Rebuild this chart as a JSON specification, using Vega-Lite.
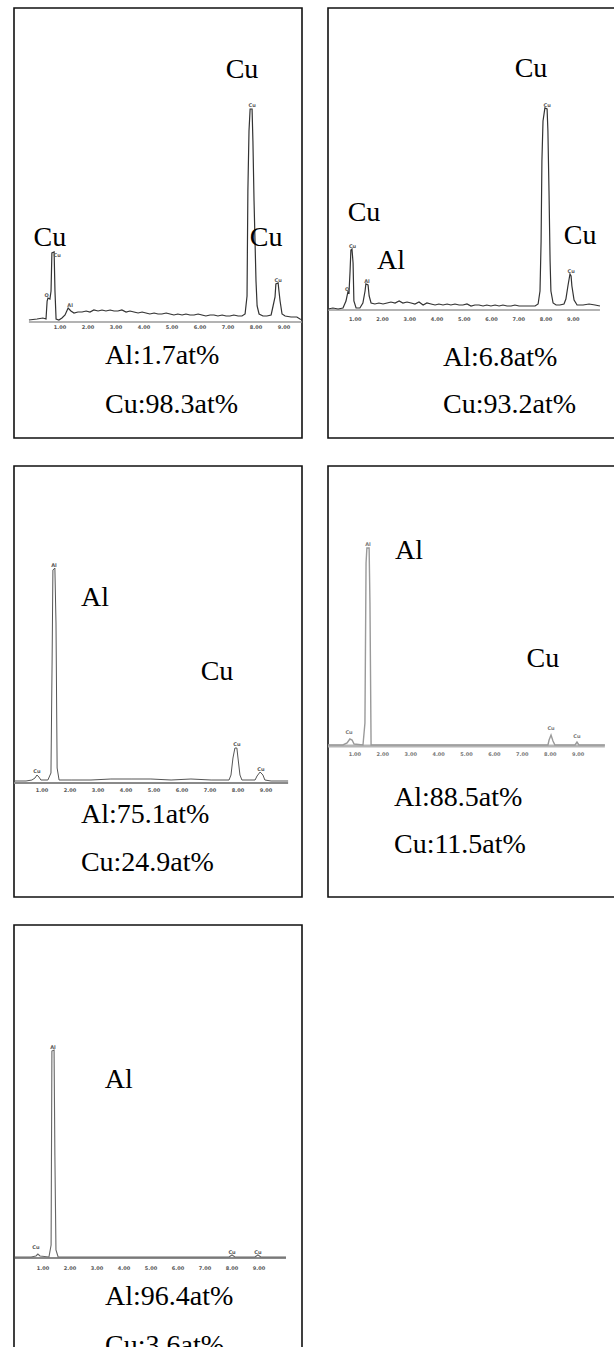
{
  "$schema": "https://vega.github.io/schema/vega-lite/v6.json",
  "background": "white",
  "padding": {"left": 13, "top": 7, "right": 0, "bottom": 0},
  "spacing": 26,
  "config": {"view": {"stroke": "#111", "strokeWidth": 1.6}},
  "datasets": {
    "spectra": [
      {"panel":1,"x":-0.11,"y":0},{"panel":1,"x":0.18,"y":10},{"panel":1,"x":0.39,"y":20},{"panel":1,"x":0.5,"y":10},{"panel":1,"x":0.54,"y":190},{"panel":1,"x":0.57,"y":220},{"panel":1,"x":0.64,"y":210},{"panel":1,"x":0.68,"y":290},{"panel":1,"x":0.71,"y":670},{"panel":1,"x":0.79,"y":680},{"panel":1,"x":0.82,"y":290},{"panel":1,"x":0.86,"y":10},{"panel":1,"x":0.96,"y":0},{"panel":1,"x":1.07,"y":20},{"panel":1,"x":1.18,"y":50},{"panel":1,"x":1.29,"y":120},{"panel":1,"x":1.39,"y":90},{"panel":1,"x":1.5,"y":70},{"panel":1,"x":1.64,"y":80},{"panel":1,"x":1.79,"y":80},{"panel":1,"x":1.93,"y":90},{"panel":1,"x":2.07,"y":80},{"panel":1,"x":2.21,"y":100},{"panel":1,"x":2.36,"y":90},{"panel":1,"x":2.5,"y":100},{"panel":1,"x":2.64,"y":90},{"panel":1,"x":2.79,"y":100},{"panel":1,"x":2.93,"y":90},{"panel":1,"x":3.07,"y":90},{"panel":1,"x":3.21,"y":100},{"panel":1,"x":3.36,"y":80},{"panel":1,"x":3.5,"y":90},{"panel":1,"x":3.64,"y":80},{"panel":1,"x":3.79,"y":70},{"panel":1,"x":3.93,"y":80},{"panel":1,"x":4.07,"y":70},{"panel":1,"x":4.21,"y":60},{"panel":1,"x":4.36,"y":70},{"panel":1,"x":4.5,"y":60},{"panel":1,"x":4.64,"y":60},{"panel":1,"x":4.79,"y":70},{"panel":1,"x":4.93,"y":60},{"panel":1,"x":5.07,"y":50},{"panel":1,"x":5.21,"y":60},{"panel":1,"x":5.36,"y":50},{"panel":1,"x":5.5,"y":60},{"panel":1,"x":5.64,"y":50},{"panel":1,"x":5.79,"y":50},{"panel":1,"x":5.93,"y":60},{"panel":1,"x":6.07,"y":50},{"panel":1,"x":6.21,"y":40},{"panel":1,"x":6.36,"y":50},{"panel":1,"x":6.5,"y":50},{"panel":1,"x":6.64,"y":40},{"panel":1,"x":6.79,"y":50},{"panel":1,"x":6.93,"y":40},{"panel":1,"x":7.07,"y":40},{"panel":1,"x":7.21,"y":50},{"panel":1,"x":7.36,"y":40},{"panel":1,"x":7.5,"y":40},{"panel":1,"x":7.61,"y":60},{"panel":1,"x":7.68,"y":240},{"panel":1,"x":7.71,"y":1290},{"panel":1,"x":7.75,"y":1890},{"panel":1,"x":7.79,"y":2110},{"panel":1,"x":7.86,"y":2110},{"panel":1,"x":7.89,"y":1790},{"panel":1,"x":7.93,"y":1190},{"panel":1,"x":8.0,"y":390},{"panel":1,"x":8.04,"y":140},{"panel":1,"x":8.11,"y":60},{"panel":1,"x":8.25,"y":40},{"panel":1,"x":8.39,"y":40},{"panel":1,"x":8.54,"y":50},{"panel":1,"x":8.61,"y":140},{"panel":1,"x":8.68,"y":230},{"panel":1,"x":8.71,"y":360},{"panel":1,"x":8.79,"y":370},{"panel":1,"x":8.82,"y":290},{"panel":1,"x":8.86,"y":190},{"panel":1,"x":8.93,"y":60},{"panel":1,"x":9.04,"y":40},{"panel":1,"x":9.25,"y":30},{"panel":1,"x":9.46,"y":30},{"panel":1,"x":9.57,"y":10},{"panel":1,"x":9.71,"y":0},{"panel":1,"x":9.96,"y":0},

      {"panel":2,"x":0,"y":0},{"panel":2,"x":0.18,"y":10},{"panel":2,"x":0.37,"y":0},{"panel":2,"x":0.55,"y":10},{"panel":2,"x":0.66,"y":80},{"panel":2,"x":0.73,"y":170},{"panel":2,"x":0.77,"y":160},{"panel":2,"x":0.81,"y":380},{"panel":2,"x":0.84,"y":590},{"panel":2,"x":0.88,"y":600},{"panel":2,"x":0.92,"y":460},{"panel":2,"x":0.95,"y":80},{"panel":2,"x":1.03,"y":10},{"panel":2,"x":1.17,"y":10},{"panel":2,"x":1.28,"y":60},{"panel":2,"x":1.36,"y":180},{"panel":2,"x":1.39,"y":250},{"panel":2,"x":1.47,"y":240},{"panel":2,"x":1.51,"y":130},{"panel":2,"x":1.58,"y":60},{"panel":2,"x":1.72,"y":50},{"panel":2,"x":1.87,"y":60},{"panel":2,"x":2.02,"y":50},{"panel":2,"x":2.17,"y":60},{"panel":2,"x":2.31,"y":70},{"panel":2,"x":2.46,"y":60},{"panel":2,"x":2.61,"y":80},{"panel":2,"x":2.75,"y":60},{"panel":2,"x":2.9,"y":70},{"panel":2,"x":3.05,"y":60},{"panel":2,"x":3.19,"y":50},{"panel":2,"x":3.34,"y":70},{"panel":2,"x":3.49,"y":40},{"panel":2,"x":3.63,"y":60},{"panel":2,"x":3.78,"y":50},{"panel":2,"x":3.93,"y":40},{"panel":2,"x":4.07,"y":50},{"panel":2,"x":4.22,"y":40},{"panel":2,"x":4.37,"y":50},{"panel":2,"x":4.51,"y":40},{"panel":2,"x":4.66,"y":50},{"panel":2,"x":4.81,"y":40},{"panel":2,"x":4.95,"y":40},{"panel":2,"x":5.1,"y":50},{"panel":2,"x":5.25,"y":30},{"panel":2,"x":5.39,"y":40},{"panel":2,"x":5.54,"y":40},{"panel":2,"x":5.69,"y":30},{"panel":2,"x":5.83,"y":40},{"panel":2,"x":5.98,"y":30},{"panel":2,"x":6.13,"y":40},{"panel":2,"x":6.28,"y":30},{"panel":2,"x":6.42,"y":40},{"panel":2,"x":6.57,"y":30},{"panel":2,"x":6.72,"y":30},{"panel":2,"x":6.86,"y":40},{"panel":2,"x":7.01,"y":30},{"panel":2,"x":7.16,"y":30},{"panel":2,"x":7.3,"y":30},{"panel":2,"x":7.45,"y":30},{"panel":2,"x":7.6,"y":30},{"panel":2,"x":7.71,"y":50},{"panel":2,"x":7.78,"y":180},{"panel":2,"x":7.82,"y":680},{"panel":2,"x":7.85,"y":1480},{"panel":2,"x":7.89,"y":1880},{"panel":2,"x":7.96,"y":2010},{"panel":2,"x":8.04,"y":2000},{"panel":2,"x":8.07,"y":1780},{"panel":2,"x":8.11,"y":1180},{"panel":2,"x":8.15,"y":480},{"panel":2,"x":8.18,"y":180},{"panel":2,"x":8.26,"y":60},{"panel":2,"x":8.37,"y":40},{"panel":2,"x":8.51,"y":40},{"panel":2,"x":8.66,"y":50},{"panel":2,"x":8.73,"y":100},{"panel":2,"x":8.81,"y":240},{"panel":2,"x":8.88,"y":350},{"panel":2,"x":8.92,"y":330},{"panel":2,"x":8.95,"y":230},{"panel":2,"x":9.03,"y":90},{"panel":2,"x":9.14,"y":40},{"panel":2,"x":9.36,"y":40},{"panel":2,"x":9.58,"y":50},{"panel":2,"x":9.8,"y":40},{"panel":2,"x":9.98,"y":30},

      {"panel":3,"x":0,"y":10},{"panel":3,"x":0.43,"y":10},{"panel":3,"x":0.64,"y":20},{"panel":3,"x":0.75,"y":40},{"panel":3,"x":0.82,"y":70},{"panel":3,"x":0.89,"y":50},{"panel":3,"x":0.96,"y":20},{"panel":3,"x":1.21,"y":20},{"panel":3,"x":1.32,"y":90},{"panel":3,"x":1.36,"y":1190},{"panel":3,"x":1.39,"y":2120},{"panel":3,"x":1.46,"y":2140},{"panel":3,"x":1.5,"y":1590},{"panel":3,"x":1.54,"y":140},{"panel":3,"x":1.61,"y":20},{"panel":3,"x":2.04,"y":20},{"panel":3,"x":2.75,"y":20},{"panel":3,"x":3.46,"y":30},{"panel":3,"x":4.18,"y":30},{"panel":3,"x":4.89,"y":30},{"panel":3,"x":5.61,"y":20},{"panel":3,"x":6.32,"y":30},{"panel":3,"x":7.04,"y":20},{"panel":3,"x":7.68,"y":20},{"panel":3,"x":7.75,"y":70},{"panel":3,"x":7.82,"y":240},{"panel":3,"x":7.89,"y":340},{"panel":3,"x":7.96,"y":340},{"panel":3,"x":8.0,"y":240},{"panel":3,"x":8.07,"y":70},{"panel":3,"x":8.14,"y":20},{"panel":3,"x":8.61,"y":20},{"panel":3,"x":8.68,"y":60},{"panel":3,"x":8.79,"y":100},{"panel":3,"x":8.89,"y":70},{"panel":3,"x":8.96,"y":20},{"panel":3,"x":9.18,"y":10},{"panel":3,"x":9.79,"y":10},

      {"panel":4,"x":0.04,"y":10},{"panel":4,"x":0.57,"y":10},{"panel":4,"x":0.72,"y":30},{"panel":4,"x":0.82,"y":70},{"panel":4,"x":0.9,"y":60},{"panel":4,"x":0.97,"y":20},{"panel":4,"x":1.29,"y":10},{"panel":4,"x":1.36,"y":230},{"panel":4,"x":1.4,"y":1830},{"panel":4,"x":1.43,"y":1980},{"panel":4,"x":1.51,"y":1980},{"panel":4,"x":1.54,"y":1430},{"panel":4,"x":1.58,"y":10},{"panel":4,"x":2.72,"y":10},{"panel":4,"x":4.52,"y":10},{"panel":4,"x":6.31,"y":10},{"panel":4,"x":7.92,"y":10},{"panel":4,"x":7.96,"y":60},{"panel":4,"x":8.03,"y":110},{"panel":4,"x":8.1,"y":50},{"panel":4,"x":8.17,"y":10},{"panel":4,"x":8.89,"y":10},{"panel":4,"x":8.96,"y":40},{"panel":4,"x":9.03,"y":10},{"panel":4,"x":9.96,"y":10},

      {"panel":5,"x":-0.04,"y":10},{"panel":5,"x":0.56,"y":10},{"panel":5,"x":0.74,"y":20},{"panel":5,"x":0.81,"y":40},{"panel":5,"x":0.89,"y":20},{"panel":5,"x":1.22,"y":10},{"panel":5,"x":1.3,"y":130},{"panel":5,"x":1.33,"y":2070},{"panel":5,"x":1.41,"y":2080},{"panel":5,"x":1.44,"y":1030},{"panel":5,"x":1.48,"y":80},{"panel":5,"x":1.56,"y":10},{"panel":5,"x":3.89,"y":10},{"panel":5,"x":6.11,"y":10},{"panel":5,"x":7.89,"y":10},{"panel":5,"x":8.0,"y":30},{"panel":5,"x":8.11,"y":10},{"panel":5,"x":8.85,"y":10},{"panel":5,"x":8.96,"y":30},{"panel":5,"x":9.07,"y":10},{"panel":5,"x":10.0,"y":10}
    ],
    "axes": [
      {"panel":1,"x":-0.11,"x2":9.96,"y":-20},
      {"panel":2,"x":0,"x2":9.98,"y":-10},
      {"panel":3,"x":0,"x2":9.79,"y":-10},
      {"panel":4,"x":0.04,"x2":9.96,"y":0},
      {"panel":5,"x":-0.04,"x2":10.0,"y":0}
    ],
    "small": [
      {"panel":1,"x":1,"y":-70,"t":"1.00"},{"panel":1,"x":2,"y":-70,"t":"2.00"},{"panel":1,"x":3,"y":-70,"t":"3.00"},{"panel":1,"x":4,"y":-70,"t":"4.00"},{"panel":1,"x":5,"y":-70,"t":"5.00"},{"panel":1,"x":6,"y":-70,"t":"6.00"},{"panel":1,"x":7,"y":-70,"t":"7.00"},{"panel":1,"x":8,"y":-70,"t":"8.00"},{"panel":1,"x":9,"y":-70,"t":"9.00"},
      {"panel":2,"x":1,"y":-100,"t":"1.00"},{"panel":2,"x":2,"y":-100,"t":"2.00"},{"panel":2,"x":3,"y":-100,"t":"3.00"},{"panel":2,"x":4,"y":-100,"t":"4.00"},{"panel":2,"x":5,"y":-100,"t":"5.00"},{"panel":2,"x":6,"y":-100,"t":"6.00"},{"panel":2,"x":7,"y":-100,"t":"7.00"},{"panel":2,"x":8,"y":-100,"t":"8.00"},{"panel":2,"x":9,"y":-100,"t":"9.00"},
      {"panel":3,"x":1,"y":-80,"t":"1.00"},{"panel":3,"x":2,"y":-80,"t":"2.00"},{"panel":3,"x":3,"y":-80,"t":"3.00"},{"panel":3,"x":4,"y":-80,"t":"4.00"},{"panel":3,"x":5,"y":-80,"t":"5.00"},{"panel":3,"x":6,"y":-80,"t":"6.00"},{"panel":3,"x":7,"y":-80,"t":"7.00"},{"panel":3,"x":8,"y":-80,"t":"8.00"},{"panel":3,"x":9,"y":-80,"t":"9.00"},
      {"panel":4,"x":1,"y":-80,"t":"1.00"},{"panel":4,"x":2,"y":-80,"t":"2.00"},{"panel":4,"x":3,"y":-80,"t":"3.00"},{"panel":4,"x":4,"y":-80,"t":"4.00"},{"panel":4,"x":5,"y":-80,"t":"5.00"},{"panel":4,"x":6,"y":-80,"t":"6.00"},{"panel":4,"x":7,"y":-80,"t":"7.00"},{"panel":4,"x":8,"y":-80,"t":"8.00"},{"panel":4,"x":9,"y":-80,"t":"9.00"},
      {"panel":5,"x":1,"y":-100,"t":"1.00"},{"panel":5,"x":2,"y":-100,"t":"2.00"},{"panel":5,"x":3,"y":-100,"t":"3.00"},{"panel":5,"x":4,"y":-100,"t":"4.00"},{"panel":5,"x":5,"y":-100,"t":"5.00"},{"panel":5,"x":6,"y":-100,"t":"6.00"},{"panel":5,"x":7,"y":-100,"t":"7.00"},{"panel":5,"x":8,"y":-100,"t":"8.00"},{"panel":5,"x":9,"y":-100,"t":"9.00"},
      {"panel":1,"x":0.9,"y":655,"t":"Cu"},{"panel":1,"x":0.52,"y":250,"t":"O"},{"panel":1,"x":1.36,"y":150,"t":"Al"},{"panel":1,"x":7.86,"y":2150,"t":"Cu"},{"panel":1,"x":8.79,"y":400,"t":"Cu"},
      {"panel":2,"x":0.9,"y":630,"t":"Cu"},{"panel":2,"x":0.7,"y":200,"t":"O"},{"panel":2,"x":1.43,"y":280,"t":"Al"},{"panel":2,"x":8.04,"y":2040,"t":"Cu"},{"panel":2,"x":8.92,"y":380,"t":"Cu"},
      {"panel":3,"x":1.43,"y":2170,"t":"Al"},{"panel":3,"x":0.82,"y":110,"t":"Cu"},{"panel":3,"x":7.96,"y":380,"t":"Cu"},{"panel":3,"x":8.82,"y":130,"t":"Cu"},
      {"panel":4,"x":1.47,"y":2020,"t":"Al"},{"panel":4,"x":0.79,"y":140,"t":"Cu"},{"panel":4,"x":8.03,"y":180,"t":"Cu"},{"panel":4,"x":8.96,"y":100,"t":"Cu"},
      {"panel":5,"x":1.37,"y":2110,"t":"Al"},{"panel":5,"x":0.74,"y":110,"t":"Cu"},{"panel":5,"x":8.0,"y":60,"t":"Cu"},{"panel":5,"x":8.96,"y":60,"t":"Cu"}
    ],
    "labels": [
      {"panel":1,"kind":"peak","x":7.5,"y":2420,"t":"Cu"},{"panel":1,"kind":"peak","x":0.64,"y":740,"t":"Cu"},{"panel":1,"kind":"peak","x":8.36,"y":740,"t":"Cu"},
      {"panel":1,"kind":"comp","x":2.61,"y":-440,"t":"Al:1.7at%"},{"panel":1,"kind":"comp","x":2.61,"y":-930,"t":"Cu:98.3at%"},
      {"panel":2,"kind":"peak","x":7.45,"y":2320,"t":"Cu"},{"panel":2,"kind":"peak","x":1.32,"y":880,"t":"Cu"},{"panel":2,"kind":"peak","x":2.31,"y":400,"t":"Al"},{"panel":2,"kind":"peak","x":9.25,"y":650,"t":"Cu"},
      {"panel":2,"kind":"comp","x":4.22,"y":-570,"t":"Al:6.8at%"},{"panel":2,"kind":"comp","x":4.22,"y":-1040,"t":"Cu:93.2at%"},
      {"panel":3,"kind":"peak","x":2.89,"y":1760,"t":"Al"},{"panel":3,"kind":"peak","x":7.25,"y":1020,"t":"Cu"},
      {"panel":3,"kind":"comp","x":2.39,"y":-410,"t":"Al:75.1at%"},{"panel":3,"kind":"comp","x":2.39,"y":-890,"t":"Cu:24.9at%"},
      {"panel":4,"kind":"peak","x":2.94,"y":1870,"t":"Al"},{"panel":4,"kind":"peak","x":7.74,"y":790,"t":"Cu"},
      {"panel":4,"kind":"comp","x":2.4,"y":-600,"t":"Al:88.5at%"},{"panel":4,"kind":"comp","x":2.4,"y":-1070,"t":"Cu:11.5at%"},
      {"panel":5,"kind":"peak","x":3.81,"y":1700,"t":"Al"},
      {"panel":5,"kind":"comp","x":3.3,"y":-470,"t":"Al:96.4at%"},{"panel":5,"kind":"comp","x":3.3,"y":-960,"t":"Cu:3.6at%"}
    ]
  },
  "vconcat": [
    {
      "spacing": 24,
      "hconcat": [
        {
          "width": 288, "height": 430,
          "encoding": {
            "x": {"field": "x", "type": "quantitative", "scale": {"domain": [-0.643, 9.643], "nice": false, "zero": false}, "axis": null},
            "y": {"field": "y", "type": "quantitative", "scale": {"domain": [-1180, 3120], "nice": false, "zero": false}, "axis": null}
          },
          "layer": [
            {"data": {"name": "axes"}, "transform": [{"filter": "datum.panel == 1"}], "mark": {"type": "rule", "stroke": "#9a9a9a", "strokeWidth": 1.6, "clip": true}, "encoding": {"x2": {"field": "x2"}}},
            {"data": {"name": "spectra"}, "transform": [{"filter": "datum.panel == 1"}], "mark": {"type": "line", "stroke": "#333", "strokeWidth": 1.2, "clip": true}},
            {"data": {"name": "small"}, "transform": [{"filter": "datum.panel == 1"}], "mark": {"type": "text", "font": "DejaVu Sans", "fontSize": 5, "fontWeight": "bold", "fill": "#555", "baseline": "middle"}, "encoding": {"text": {"field": "t"}}},
            {"data": {"name": "labels"}, "transform": [{"filter": "datum.panel == 1 && datum.kind == 'peak'"}], "mark": {"type": "text", "font": "Liberation Serif", "fontSize": 28, "fill": "#000", "align": "center", "baseline": "alphabetic"}, "encoding": {"text": {"field": "t"}}},
            {"data": {"name": "labels"}, "transform": [{"filter": "datum.panel == 1 && datum.kind == 'comp'"}], "mark": {"type": "text", "font": "Liberation Serif", "fontSize": 28, "fill": "#000", "align": "left", "baseline": "alphabetic"}, "encoding": {"text": {"field": "t"}}}
          ]
        },
        {
          "width": 287, "height": 430,
          "encoding": {
            "x": {"field": "x", "type": "quantitative", "scale": {"domain": [0, 10.532], "nice": false, "zero": false}, "axis": null},
            "y": {"field": "y", "type": "quantitative", "scale": {"domain": [-1290, 3010], "nice": false, "zero": false}, "axis": null}
          },
          "layer": [
            {"data": {"name": "axes"}, "transform": [{"filter": "datum.panel == 2"}], "mark": {"type": "rule", "stroke": "#9a9a9a", "strokeWidth": 1.6, "clip": true}, "encoding": {"x2": {"field": "x2"}}},
            {"data": {"name": "spectra"}, "transform": [{"filter": "datum.panel == 2"}], "mark": {"type": "line", "stroke": "#333", "strokeWidth": 1.2, "clip": true}},
            {"data": {"name": "small"}, "transform": [{"filter": "datum.panel == 2"}], "mark": {"type": "text", "font": "DejaVu Sans", "fontSize": 5, "fontWeight": "bold", "fill": "#555", "baseline": "middle"}, "encoding": {"text": {"field": "t"}}},
            {"data": {"name": "labels"}, "transform": [{"filter": "datum.panel == 2 && datum.kind == 'peak'"}], "mark": {"type": "text", "font": "Liberation Serif", "fontSize": 28, "fill": "#000", "align": "center", "baseline": "alphabetic"}, "encoding": {"text": {"field": "t"}}},
            {"data": {"name": "labels"}, "transform": [{"filter": "datum.panel == 2 && datum.kind == 'comp'"}], "mark": {"type": "text", "font": "Liberation Serif", "fontSize": 28, "fill": "#000", "align": "left", "baseline": "alphabetic"}, "encoding": {"text": {"field": "t"}}}
          ]
        }
      ]
    },
    {
      "spacing": 24,
      "hconcat": [
        {
          "width": 288, "height": 431,
          "encoding": {
            "x": {"field": "x", "type": "quantitative", "scale": {"domain": [0, 10.286], "nice": false, "zero": false}, "axis": null},
            "y": {"field": "y", "type": "quantitative", "scale": {"domain": [-1150, 3160], "nice": false, "zero": false}, "axis": null}
          },
          "layer": [
            {"data": {"name": "axes"}, "transform": [{"filter": "datum.panel == 3"}], "mark": {"type": "rule", "stroke": "#8a8a8a", "strokeWidth": 2, "clip": true}, "encoding": {"x2": {"field": "x2"}}},
            {"data": {"name": "spectra"}, "transform": [{"filter": "datum.panel == 3"}], "mark": {"type": "line", "stroke": "#555", "strokeWidth": 1, "clip": true}},
            {"data": {"name": "small"}, "transform": [{"filter": "datum.panel == 3"}], "mark": {"type": "text", "font": "DejaVu Sans", "fontSize": 5, "fontWeight": "bold", "fill": "#555", "baseline": "middle"}, "encoding": {"text": {"field": "t"}}},
            {"data": {"name": "labels"}, "transform": [{"filter": "datum.panel == 3 && datum.kind == 'peak'"}], "mark": {"type": "text", "font": "Liberation Serif", "fontSize": 28, "fill": "#000", "align": "center", "baseline": "alphabetic"}, "encoding": {"text": {"field": "t"}}},
            {"data": {"name": "labels"}, "transform": [{"filter": "datum.panel == 3 && datum.kind == 'comp'"}], "mark": {"type": "text", "font": "Liberation Serif", "fontSize": 28, "fill": "#000", "align": "left", "baseline": "alphabetic"}, "encoding": {"text": {"field": "t"}}}
          ]
        },
        {
          "width": 287, "height": 431,
          "encoding": {
            "x": {"field": "x", "type": "quantitative", "scale": {"domain": [0.036, 10.323], "nice": false, "zero": false}, "axis": null},
            "y": {"field": "y", "type": "quantitative", "scale": {"domain": [-1510, 2800], "nice": false, "zero": false}, "axis": null}
          },
          "layer": [
            {"data": {"name": "axes"}, "transform": [{"filter": "datum.panel == 4"}], "mark": {"type": "rule", "stroke": "#b5b5b5", "strokeWidth": 3, "clip": true}, "encoding": {"x2": {"field": "x2"}}},
            {"data": {"name": "spectra"}, "transform": [{"filter": "datum.panel == 4"}], "mark": {"type": "line", "stroke": "#9a9a9a", "strokeWidth": 1.4, "clip": true}},
            {"data": {"name": "small"}, "transform": [{"filter": "datum.panel == 4"}], "mark": {"type": "text", "font": "DejaVu Sans", "fontSize": 5, "fontWeight": "bold", "fill": "#777", "baseline": "middle"}, "encoding": {"text": {"field": "t"}}},
            {"data": {"name": "labels"}, "transform": [{"filter": "datum.panel == 4 && datum.kind == 'peak'"}], "mark": {"type": "text", "font": "Liberation Serif", "fontSize": 28, "fill": "#000", "align": "center", "baseline": "alphabetic"}, "encoding": {"text": {"field": "t"}}},
            {"data": {"name": "labels"}, "transform": [{"filter": "datum.panel == 4 && datum.kind == 'comp'"}], "mark": {"type": "text", "font": "Liberation Serif", "fontSize": 28, "fill": "#000", "align": "left", "baseline": "alphabetic"}, "encoding": {"text": {"field": "t"}}}
          ]
        }
      ]
    },
    {
      "width": 288, "height": 440,
      "encoding": {
        "x": {"field": "x", "type": "quantitative", "scale": {"domain": [-0.074, 10.593], "nice": false, "zero": false}, "axis": null},
        "y": {"field": "y", "type": "quantitative", "scale": {"domain": [-1070, 3330], "nice": false, "zero": false}, "axis": null}
      },
      "layer": [
        {"data": {"name": "axes"}, "transform": [{"filter": "datum.panel == 5"}], "mark": {"type": "rule", "stroke": "#8a8a8a", "strokeWidth": 1.8, "clip": true}, "encoding": {"x2": {"field": "x2"}}},
        {"data": {"name": "spectra"}, "transform": [{"filter": "datum.panel == 5"}], "mark": {"type": "line", "stroke": "#666", "strokeWidth": 1.1, "clip": true}},
        {"data": {"name": "small"}, "transform": [{"filter": "datum.panel == 5"}], "mark": {"type": "text", "font": "DejaVu Sans", "fontSize": 5, "fontWeight": "bold", "fill": "#555", "baseline": "middle"}, "encoding": {"text": {"field": "t"}}},
        {"data": {"name": "labels"}, "transform": [{"filter": "datum.panel == 5 && datum.kind == 'peak'"}], "mark": {"type": "text", "font": "Liberation Serif", "fontSize": 28, "fill": "#000", "align": "center", "baseline": "alphabetic"}, "encoding": {"text": {"field": "t"}}},
        {"data": {"name": "labels"}, "transform": [{"filter": "datum.panel == 5 && datum.kind == 'comp'"}], "mark": {"type": "text", "font": "Liberation Serif", "fontSize": 28, "fill": "#000", "align": "left", "baseline": "alphabetic"}, "encoding": {"text": {"field": "t"}}}
      ]
    }
  ]
}
